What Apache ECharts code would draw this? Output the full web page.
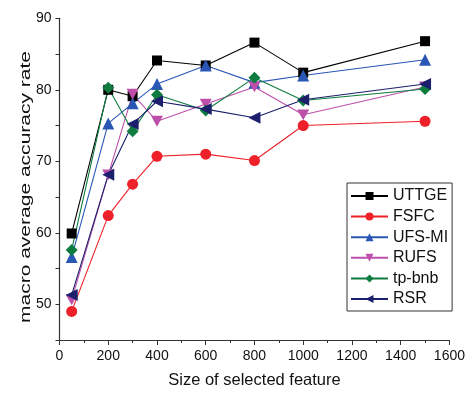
<!DOCTYPE html>
<html><head><meta charset="utf-8">
<script src="https://cdn.jsdelivr.net/npm/echarts@6/dist/echarts.min.js"></script>
<style>html,body{margin:0;padding:0;background:#fff}#c{width:468px;height:394px}</style>
</head><body><div id="c"></div>
<script>
const xValues = [50, 200, 300, 400, 600, 800, 1000, 1500];
const seriesNames = ['UTTGE', 'FSFC', 'UFS-MI', 'RUFS', 'tp-bnb', 'RSR'];
const uttge = [59.9, 80.0, 79.1, 84.1, 83.4, 86.6, 82.4, 86.8];
const fsfc  = [49.0, 62.4, 66.8, 70.7, 71.0, 70.1, 75.0, 75.6];
const ufsmi = [56.6, 75.3, 78.1, 80.8, 83.4, 81.0, 82.0, 84.2];
const rufs  = [50.6, 68.1, 79.4, 75.6, 78.0, 80.4, 76.5, 80.4];
const tpbnb = [57.6, 80.3, 74.2, 79.3, 77.1, 81.7, 78.5, 80.1];
const rsr   = [51.3, 68.1, 75.2, 78.4, 77.3, 76.1, 78.6, 80.8];
const allValues = [uttge, fsfc, ufsmi, rufs, tpbnb, rsr];
const xTitle = 'Size of selected feature';
const yTitle = 'macro average accuracy rate';
const colors = ['#000000', '#ee2029', '#2a57b6', '#bd4faa', '#0d7c3e', '#1b1f6c'];
const symbols = ['rect', 'circle', 'triangle', 'path://M0,0 L10,0 L5,9 Z', 'diamond', 'path://M10,0 L10,10 L0,5 Z'];
const sizes = [10, 11, 12, 12, 12, 12];

const font = 'Liberation Sans, Arial, sans-serif';
const chart = echarts.init(document.getElementById('c'));
chart.setOption({
  animation: false,
  grid: {left: 59.5, right: 14.7, top: 18.3, bottom: 50.3},
  xAxis: {
    type: 'value', min: 0, max: 1600, interval: 200,
    name: xTitle, nameLocation: 'middle', nameGap: 32,
    nameTextStyle: {fontFamily: font, fontSize: 16.5, color: '#111'},
    axisLine: {show: true, lineStyle: {color: '#333', width: 1.2}},
    axisTick: {show: true, inside: false, length: 5, lineStyle: {color: '#333'}},
    minorTick: {show: true, splitNumber: 2, length: 3, lineStyle: {color: '#333'}},
    axisLabel: {fontFamily: font, fontSize: 14, color: '#111', margin: 9, formatter: v => String(v)},
    splitLine: {show: false}
  },
  yAxis: {
    type: 'value', min: 45, max: 90, interval: 5,
    axisLine: {show: true, lineStyle: {color: '#333', width: 1.2}},
    axisTick: {show: true, inside: false, length: 4, lineStyle: {color: '#333'}},
    axisLabel: {fontFamily: font, fontSize: 14, color: '#111', margin: 8,
      formatter: v => (v % 10 === 0 ? String(v) : '')},
    splitLine: {show: false}
  },
  graphic: [{
    type: 'text', x: 26, y: 187, rotation: Math.PI / 2, scaleX: 1.42,
    style: {text: yTitle, fontFamily: font, fontSize: 14.8, fill: '#111', align: 'center', verticalAlign: 'middle'}
  }],
  legend: {
    orient: 'vertical', left: 347, top: 183, width: 104,
    padding: [5, 4, 4, 3], itemGap: 4.6, itemWidth: 37, itemHeight: 10,
    borderColor: '#333', borderWidth: 1,
    textStyle: {fontFamily: font, fontSize: 16, color: '#111'},
    data: seriesNames
  },
  series: seriesNames.map((n, i) => ({
    name: n, type: 'line',
    data: xValues.map((x, j) => [x, allValues[i][j]]),
    symbol: symbols[i], symbolSize: sizes[i],
    symbolKeepAspect: true,
    color: colors[i],
    lineStyle: {width: 1.1, color: colors[i]},
    itemStyle: {color: colors[i]}
  }))
});
</script></body></html>
